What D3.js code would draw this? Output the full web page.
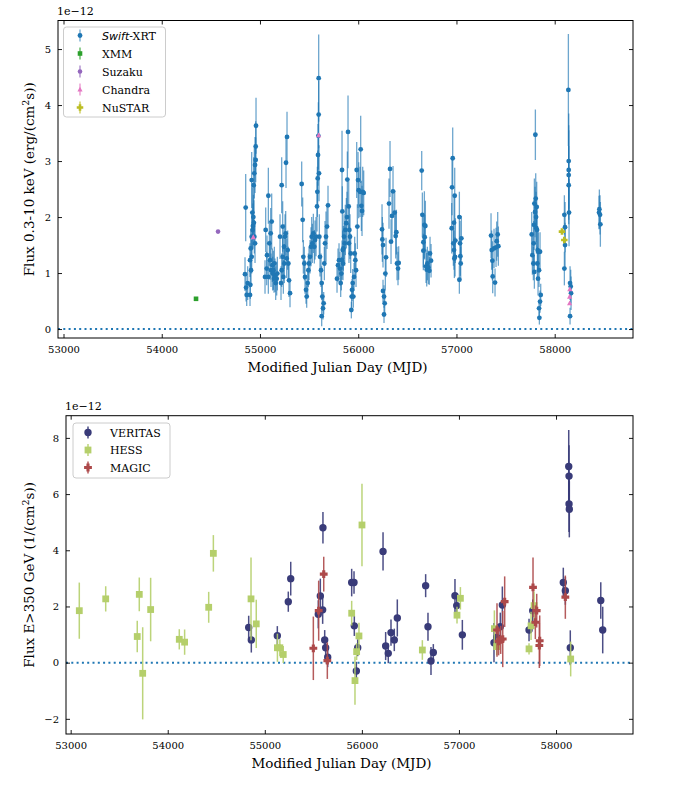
<!DOCTYPE html>
<html><head><meta charset="utf-8">
<script src="https://cdn.jsdelivr.net/npm/d3@7"></script>
<style>
body{margin:0;background:#fff;}
text{font-family:"DejaVu Serif",serif;fill:#000;}
</style></head>
<body><svg id="c" width="683" height="790"></svg>
<script>
// ---------------- DATA ----------------
// [MJD, flux (1e-12), error]
const swiftXRT = [
[54854.5,2.17,0.6],[54847.7,0.98,0.3],[54857.9,0.74,0.25],[54874.8,0.82,0.3],[54864.7,0.61,0.2],[54902,0.79,0.25],
[54898.6,1.23,0.3],[54905.4,1.44,0.35],[54915.6,1.65,0.4],[54925.7,1.77,0.35],[54932.5,2.0,0.4],[54922.3,2.08,0.45],
[54935.9,2.57,0.5],[54915.6,2.66,0.5],[54942.7,2.78,0.45],[54949.5,2.93,0.5],[54956.3,3.02,0.4],[54956.3,3.26,0.45],
[54959.7,3.63,0.5],[54942.7,1.65,0.3],[54915.6,1.29,0.3],[54908.8,1.05,0.3],[54949.5,1.53,0.35],[54898.6,0.61,0.2],
[54938,1.9,0.4],[54928,1.84,0.4],
[55058,1.77,0.4],[55071.6,1.32,0.35],[55085.2,2.38,0.5],[55095.4,1.53,0.4],[55109,1.71,0.45],[55119.1,1.92,0.5],
[55051.3,0.93,0.3],[55068.2,1.08,0.3],[55085.2,0.93,0.3],[55102.2,1.23,0.35],[55112.3,1.05,0.3],[55125.9,1.14,0.3],
[55136.1,1.05,0.35],[55146.3,1.17,0.3],[55153.1,0.96,0.3],[55159.8,0.82,0.3],[55170,0.9,0.3],[55176.8,0.99,0.3],
[55129.3,0.99,0.3],[55142.9,0.9,0.25],
[55204,1.65,0.4],[55220.9,2.57,0.5],[55231.1,1.83,0.45],[55244.7,1.47,0.4],[55254.9,1.65,0.4],[55265,2.97,0.45],
[55275.2,3.43,0.45],[55261.6,1.71,0.4],[55271.8,1.26,0.35],[55248.1,1.17,0.35],[55220.9,1.05,0.3],[55237.9,0.93,0.3],
[55282,1.41,0.35],[55288.8,1.17,0.3],[55295.6,0.87,0.3],[55305.7,0.64,0.25],[55214.1,0.82,0.3],[55231.1,1.29,0.35],
[55424.5,2.59,0.4],[55434.7,1.95,0.4],[55441.5,1.29,0.3],[55451.6,1.17,0.3],[55458.4,0.93,0.3],[55468.6,0.70,0.25],
[55475.4,0.58,0.2],[55485.6,0.82,0.25],[55492.4,1.05,0.3],[55499.1,1.17,0.3],[55509.3,1.29,0.3],[55519.5,1.47,0.35],
[55526.3,1.65,0.35],[55533.1,1.53,0.35],[55543.3,1.71,0.35],[55553.4,1.47,0.3],[55560.2,1.59,0.35],[55570.4,1.65,0.35],
[55580.6,2.19,0.45],[55584,2.45,0.45],[55587.4,2.69,0.5],[55590.8,3.11,0.55],[55594.2,3.45,0.6],[55597.5,3.83,0.6],
[55597.5,4.48,0.78],[55600.9,2.78,0.5],[55604.3,1.65,0.4],[55611.1,1.29,0.35],[55621.3,1.05,0.3],[55628.1,0.82,0.3],
[55634.9,0.58,0.25],[55641.7,0.37,0.2],[55628.1,0.23,0.18],[55648.4,0.46,0.2],[55655.2,1.17,0.3],[55662,1.53,0.4],
[55672.2,1.65,0.45],[55682.4,1.83,0.4],[55692.5,2.21,0.35],
[55784.2,0.9,0.25],[55794.4,1.14,0.3],[55804.6,1.23,0.3],[55814.7,1.08,0.3],[55821.5,0.82,0.25],[55828.3,0.99,0.3],
[55835.1,1.23,0.35],[55841.9,1.41,0.35],[55848.7,1.44,0.4],[55855.5,1.65,0.4],[55838.5,2.1,0.45],[55835.1,2.84,0.7],
[55862.3,1.53,0.4],[55869,1.77,0.45],[55879.2,1.89,0.45],[55886,2.0,0.45],[55889.4,2.67,0.5],[55896.2,3.52,0.65],
[55903,2.19,0.45],[55909.8,1.77,0.4],[55916.5,1.65,0.4],[55923.3,1.35,0.35],[55930.1,0.34,0.15],[55933.5,0.58,0.2],
[55936.9,0.7,0.2],[55943.7,0.82,0.25],[55950.5,0.58,0.2],[55957.3,0.93,0.25],[55964,1.35,0.3],[55970.8,1.23,0.3],
[55977.6,1.05,0.3],[55984.4,2.84,0.5],[55991.2,1.83,0.4],[55998,2.66,0.5],[56004.8,2.48,0.5],[56018.3,2.45,0.45],
[56025.1,3.21,0.6],[56031.9,2.2,0.45],[56038.7,2.11,0.45],[56045.5,2.45,0.45],[56055.7,2.43,0.4],[55906,1.53,0.35],[55845,1.17,0.3],
[56242.3,1.78,0.45],[56245.7,1.6,0.4],[56252.4,1.5,0.4],[56252.4,0.68,0.2],[56262.6,0.58,0.2],[56269.4,0.46,0.2],
[56262.6,0.26,0.15],[56276.2,0.99,0.3],[56283,1.28,0.35],[56313.5,2.24,0.45],[56323.7,2.86,0.5],[56333.9,1.56,0.4],
[56344,2.02,0.45],[56354.2,2.46,0.45],[56371.2,2.08,0.4],[56381.4,1.66,0.4],[56388.2,1.73,0.4],[56394.9,1.17,0.3],
[56405.1,1.08,0.3],[56411.9,1.18,0.3],
[56646.2,2.83,0.35],[56653,2.04,0.4],[56663.1,1.55,0.5],[56673.3,1.86,0.6],[56676.7,1.64,0.4],[56683.5,1.84,0.45],
[56663.1,1.40,0.3],[56690.3,1.12,0.3],[56697.1,1.06,0.3],[56703.8,1.17,0.3],[56714,1.1,0.3],[56724.2,1.04,0.25],
[56731,1.35,0.3],[56741.2,1.22,0.3],
[56951.5,1.8,0.45],[56955,2.53,0.5],[56961.7,3.05,0.55],[56968.5,1.53,0.4],[56975.3,1.9,0.45],[56982.1,2.38,0.5],
[56975.3,1.41,0.35],[56978.7,1.26,0.35],[56985.5,1.29,0.35],[56988.9,1.58,0.4],[57029.6,2.0,0.45],[57036.4,1.53,0.4],
[57039.8,1.3,0.35],[57043.1,1.17,0.3],[57049.9,1.62,0.4],[57029.6,0.88,0.25],
[57351.9,1.67,0.4],[57358.7,1.41,0.35],[57365.5,1.22,0.35],[57368.9,0.94,0.3],[57392.6,0.83,0.25],[57382.4,1.44,0.35],
[57402.8,1.46,0.35],[57409.6,1.57,0.35],[57419.7,1.69,0.4],[57426.5,1.48,0.35],
[57766,1.69,0.4],[57782.9,1.17,0.3],[57772.7,1.32,0.35],[57786.3,1.53,0.4],[57789.7,1.86,0.45],[57793.1,2.24,0.45],
[57799.9,2.09,0.45],[57803.3,3.47,0.45],[57806.7,2.33,0.45],[57810.1,2.0,0.45],[57813.5,1.80,0.45],[57816.8,2.18,0.45],
[57820.2,1.77,0.4],[57827,1.41,0.35],[57823.6,1.17,0.3],[57830.4,0.9,0.3],[57840.6,1.05,0.3],[57833.8,1.38,0.35],
[57850.8,1.38,0.35],[57857.6,0.61,0.2],[57850.8,0.49,0.2],[57840.6,0.37,0.15],[57844,0.2,0.12],[57793.1,1.02,0.3],
[58098.5,2.04,0.35],[58105.2,1.82,0.45],[58105.2,1.5,0.4],[58098.5,1.08,0.3],[58139.2,4.27,1.0],[58142.6,3.0,0.85],
[58142.6,2.84,0.8],[58142.6,2.75,0.8],[58142.6,2.57,0.7],[58146,2.08,0.6],[58156.2,0.82,0.3],[58166.3,0.64,0.3],
[58163,0.76,0.3],[58156.2,0.23,0.15],
[58454.7,2.14,0.35],[58461.5,2.04,0.35],[58464.9,1.87,0.4],[58451.3,2.08,0.3]
];
const xmm = [[54349,0.54,0.03]];
const suzaku = [[54573,1.74,0.03]];
const chandra = [[54932,1.64,0.03],[55597,3.46,0.04],[58154,0.71,0.03],[58152,0.58,0.03],[58152,0.46,0.03]];
const nustar = [[58074,1.74,0.04],[58098,1.59,0.04]];

const veritas = [
[54834,1.25,0.42],[54861,0.81,0.45],[55129,0.96,0.34],[55242,2.17,0.36],[55267,2.99,0.6],[55551,1.72,0.5],
[55572,2.37,0.62],[55596,1.88,0.5],[55599,4.80,0.56],[55617,0.81,0.35],[55627,0.53,0.3],[55648,0.19,0.35],
[55895,2.85,0.49],[55919,2.85,0.4],[55922,1.31,0.36],[55943,-0.30,0.33],[55957,0.53,0.3],[56218,3.96,0.68],
[56245,0.59,0.5],[56272,0.33,0.35],[56300,1.07,0.47],[56334,0.81,0.4],[56365,1.59,0.66],[56657,2.74,0.41],
[56681,1.28,0.5],[56712,0.06,0.5],[56736,0.36,0.3],[56959,2.38,0.6],[56977,2.03,0.4],[57035,0.99,0.53],
[57361,0.71,0.7],[57389,0.90,0.4],[57426,1.28,0.5],[57447,2.05,0.66],[57722,1.16,0.4],[57760,1.85,0.4],
[58075,2.85,0.53],[58096,2.56,0.5],[58131,6.98,1.3],[58134,6.64,1.1],[58134,5.65,1.0],[58137,5.46,1.0],
[58147,0.53,0.62],[58461,2.21,0.65],[58481,1.16,0.83]
];
const hess = [
[53089,1.85,1.0],[53361,2.27,0.45],[53686,0.93,0.56],[53707,2.43,0.6],[53742,-0.38,1.64],[53824,1.89,1.13],
[54119,0.83,0.36],[54174,0.73,0.45],[54422,1.97,0.55],[54470,3.89,0.65],[54858,2.27,1.47],[54912,1.38,0.86],
[55130,0.53,0.5],[55155,0.53,0.3],[55190,0.29,0.3],[55895,1.76,0.44],[55929,-0.64,0.86],[55946,0.39,0.3],
[55970,0.95,0.47],[56001,4.9,1.47],[56623,0.45,0.35],[56980,1.69,0.3],[57015,2.29,0.4],[57365,1.21,0.65],
[57389,0.57,0.3],[57722,0.49,0.2],[57743,1.31,0.5],[57774,2.03,0.5],[58151,0.13,0.62]
];
const magic = [
[55500,0.51,1.13],[55555,1.85,1.07],[55607,3.15,0.62],[55644,0.07,0.65],[57392,1.16,0.95],[57409,0.76,0.5],
[57430,0.81,0.5],[57451,0.84,1.0],[57471,2.17,0.9],[57763,2.68,1.06],[57787,1.44,0.6],[57801,1.85,0.6],
[57828,0.61,0.8],[57832,0.78,0.9],[58096,2.33,0.77]
];

const xTicks = [53000,54000,55000,56000,57000,58000];
const yTicksTop = [0,1,2,3,4,5];
const yTicksBottom = [-2,0,2,4,6,8];

// ---------------- DRAWING ----------------
const svg = d3.select("#c");

function markerPath(shape, s){
  const h=s/2;
  if(shape==="circle") return d3.symbol(d3.symbolCircle, Math.PI*h*h)();
  if(shape==="square") return `M${-h},${-h}H${h}V${h}H${-h}Z`;
  if(shape==="triangle") return `M0,${-h*1.1}L${h},${h*0.8}L${-h},${h*0.8}Z`;
  if(shape==="plus"){ const a=h*0.4;
    return `M${-a},${-h}H${a}V${-a}H${h}V${a}H${a}V${h}H${-a}V${a}H${-h}V${-a}H${-a}Z`; }
}

function panel(cfg){
  const g = svg.append("g");
  const x = d3.scaleLinear().domain(cfg.xdom).range([cfg.left,cfg.right]);
  const y = d3.scaleLinear().domain(cfg.ydom).range([cfg.bottom,cfg.top]);
  const clip = "clip"+cfg.id;
  svg.append("clipPath").attr("id",clip).append("rect")
    .attr("x",cfg.left).attr("y",cfg.top).attr("width",cfg.right-cfg.left).attr("height",cfg.bottom-cfg.top);
  const plot = g.append("g").attr("clip-path",`url(#${clip})`);
  plot.append("line").attr("x1",cfg.left).attr("x2",cfg.right).attr("y1",y(0)).attr("y2",y(0))
    .attr("stroke","#1f77b4").attr("stroke-width",2).attr("stroke-dasharray","2,3.3");
  cfg.series.forEach(s=>{
    const sg = plot.append("g");
    sg.selectAll("line").data(s.data).join("line")
      .attr("x1",d=>x(d[0])).attr("x2",d=>x(d[0]))
      .attr("y1",d=>y(d[1]-d[2])).attr("y2",d=>y(d[1]+d[2]))
      .attr("stroke",s.color).attr("stroke-width",s.ew).attr("stroke-opacity",s.eo);
    sg.selectAll("path").data(s.data).join("path")
      .attr("d",markerPath(s.shape,s.size))
      .attr("transform",d=>`translate(${x(d[0])},${y(d[1])})`)
      .attr("fill",s.color);
  });
  const ax = g.append("g").style("font-size","11px");
  const xb = d3.axisBottom(x).tickValues(xTicks).tickSize(-4).tickPadding(8).tickFormat(d3.format("d"));
  const xt = d3.axisTop(x).tickValues(xTicks).tickSize(-4).tickFormat("");
  const yl = d3.axisLeft(y).tickValues(cfg.yticks).tickSize(-4).tickPadding(7).tickFormat(d=>d<0?"\u2212"+Math.abs(d):d);
  const yr = d3.axisRight(y).tickValues(cfg.yticks).tickSize(-4).tickFormat("");
  [ [xb,`translate(0,${cfg.bottom})`],[xt,`translate(0,${cfg.top})`],[yl,`translate(${cfg.left},0)`],[yr,`translate(${cfg.right},0)`] ]
    .forEach(([a,t])=>{
      const gg = ax.append("g").attr("transform",t).call(a);
      gg.select(".domain").remove();
      gg.selectAll("text").style("font-family","'DejaVu Serif',serif").attr("fill","#000");
      gg.selectAll("line").attr("stroke","#000").attr("stroke-width",0.9);
    });
  g.append("rect").attr("x",cfg.left).attr("y",cfg.top).attr("width",cfg.right-cfg.left).attr("height",cfg.bottom-cfg.top)
    .attr("fill","none").attr("stroke","#000").attr("stroke-width",1);
  g.append("text").attr("x",cfg.left-1).attr("y",cfg.top-6).style("font-size","11px").text("1e\u221212");
  g.append("text").attr("x",(cfg.left+cfg.right)/2 - 8).attr("y",cfg.bottom+34).attr("text-anchor","middle")
    .style("font-size","13.5px").text("Modified Julian Day (MJD)");
  const yt = g.append("text").attr("transform",`translate(34,${(cfg.top+cfg.bottom)/2}) rotate(-90)`)
    .attr("text-anchor","middle").style("font-size","13.5px");
  yt.append("tspan").text(cfg.ylabel[0]);
  yt.append("tspan").attr("baseline-shift","super").style("font-size","9.5px").text("2");
  yt.append("tspan").text("s))");
  const L = cfg.legend;
  const lg = g.append("g");
  lg.append("rect").attr("x",L.x).attr("y",L.y).attr("width",L.w).attr("height",L.h).attr("rx",3)
    .attr("fill","#fff").attr("fill-opacity",0.8).attr("stroke","#cccccc").attr("stroke-width",1);
  cfg.series.forEach((s,i)=>{
    const cy = L.y + L.first + i*L.step;
    lg.append("line").attr("x1",L.mx).attr("x2",L.mx).attr("y1",cy-L.eh).attr("y2",cy+L.eh)
      .attr("stroke",s.color).attr("stroke-width",s.ew).attr("stroke-opacity",s.eo);
    lg.append("path").attr("d",markerPath(s.shape,s.size)).attr("transform",`translate(${L.mx},${cy})`).attr("fill",s.color);
    const t = lg.append("text").attr("x",L.tx).attr("y",cy+4).style("font-size","11px");
    if(s.italic){
      t.append("tspan").style("font-family","'DejaVu Sans',sans-serif").style("font-style","italic").text(s.italic);
      t.append("tspan").text(s.label);
    } else t.text(s.label);
  });
}

panel({
  id:"top", left:58, right:633, top:20.5, bottom:338,
  xdom:[52944,58797], ydom:[-0.16,5.51], yticks:yTicksTop,
  ylabel:["Flux 0.3-10 keV (erg/(cm"],
  series:[
    {data:swiftXRT,color:"#1f77b4",shape:"circle",size:4.8,ew:1.3,eo:0.65,italic:"Swift",label:"-XRT"},
    {data:xmm,color:"#2ca02c",shape:"square",size:4.6,ew:1.3,eo:0.8,label:"XMM"},
    {data:suzaku,color:"#9467bd",shape:"circle",size:4.6,ew:1.3,eo:0.8,label:"Suzaku"},
    {data:chandra,color:"#e377c2",shape:"triangle",size:5.2,ew:1.3,eo:0.8,label:"Chandra"},
    {data:nustar,color:"#bcbd22",shape:"plus",size:6.5,ew:1.3,eo:0.8,label:"NuSTAR"}
  ],
  legend:{x:63.5,y:27,w:102,h:90,first:8.5,step:18,mx:80,tx:102,eh:6}
});

panel({
  id:"bot", left:66, right:633, top:415.7, bottom:734,
  xdom:[52952,58793], ydom:[-2.54,8.79], yticks:yTicksBottom,
  ylabel:["Flux E>350 GeV (1/(cm"],
  series:[
    {data:veritas,color:"#393b79",shape:"circle",size:7.4,ew:1.5,eo:0.9,label:"VERITAS"},
    {data:hess,color:"#b5cf6b",shape:"square",size:6.8,ew:1.5,eo:0.9,label:"HESS"},
    {data:magic,color:"#ad494a",shape:"plus",size:7.8,ew:1.5,eo:0.9,label:"MAGIC"}
  ],
  legend:{x:73,y:423,w:97,h:55,first:9.5,step:17.5,mx:88,tx:110,eh:6}
});
</script></body></html>
